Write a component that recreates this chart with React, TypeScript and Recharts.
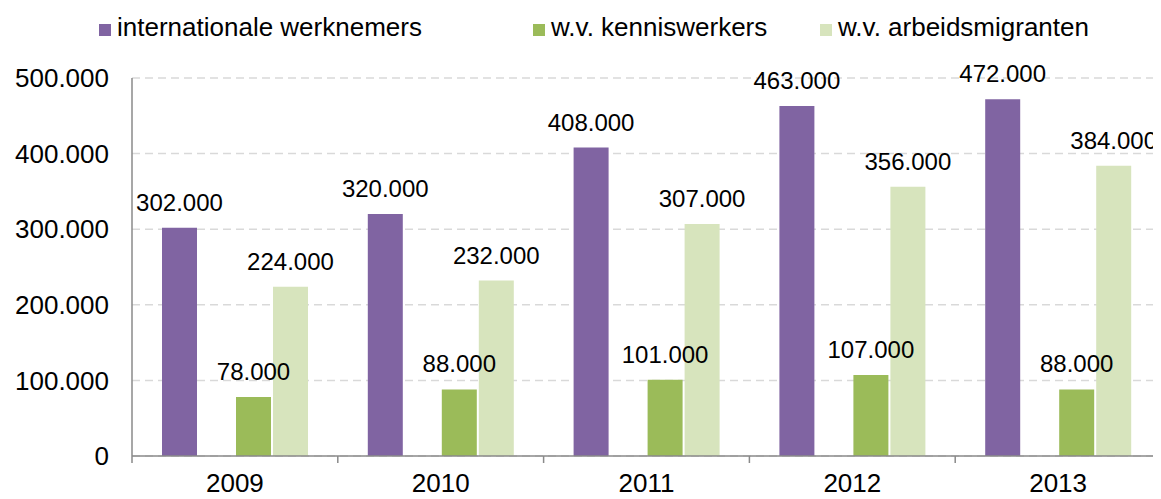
import React from 'react';
import { BarChart, Bar, XAxis, YAxis, CartesianGrid, Legend, LabelList } from 'recharts';

const years = ['2009', '2010', '2011', '2012', '2013'];
const internationaleWerknemers = [302000, 320000, 408000, 463000, 472000];
const kenniswerkers = [78000, 88000, 101000, 107000, 88000];
const arbeidsmigranten = [224000, 232000, 307000, 356000, 384000];
const yTicks = [0, 100000, 200000, 300000, 400000, 500000];

const seriesNames = ['internationale werknemers', 'w.v. kenniswerkers', 'w.v. arbeidsmigranten'];
const seriesColors = ['#8064A2', '#9BBB59', '#D7E4BD'];

const data = years.map((y, i) => ({
  year: y,
  intl: internationaleWerknemers[i],
  gap: null,
  kennis: kenniswerkers[i],
  arbeid: arbeidsmigranten[i],
}));

const CHART_W = 1153;
const CHART_H = 491;
const Y_AXIS_W = 124;
const BAND = (CHART_W - Y_AXIS_W) / years.length;
const FONT = '"Liberation Sans", Arial, sans-serif';
const AXIS_COLOR = '#8a8a8a';
const X_TICK_MARGIN = 18;

const fmt = (v: any) => {
  if (v === null || v === undefined) return '';
  return String(v).replace(/\B(?=(\d{3})+(?!\d))/g, '.');
};

const XTick = (props: any) => {
  const { x, y, payload, index } = props;
  const axisY = y - X_TICK_MARGIN;
  return (
    <g>
      <line x1={x - BAND / 2} x2={x - BAND / 2} y1={axisY} y2={axisY + 7} stroke={AXIS_COLOR} strokeWidth={1.5} />
      {index === years.length - 1 && (
        <line x1={x + BAND / 2} x2={x + BAND / 2} y1={axisY} y2={axisY + 7} stroke={AXIS_COLOR} strokeWidth={1.5} />
      )}
      <text x={x} y={y} dy="0.71em" textAnchor="middle" fill="#000" fontSize={26} fontFamily={FONT}>
        {payload.value}
      </text>
    </g>
  );
};

const slotWidths = [434, 287, 300];

const LegendContent = () => (
  <div style={{ display: 'flex', height: 30, paddingLeft: 91, fontFamily: FONT }}>
    {seriesNames.map((n, i) => (
      <div key={n} style={{ width: slotWidths[i], display: 'flex', alignItems: 'flex-start', height: 30 }}>
        <div style={{ width: 12, height: 12, background: seriesColors[i], marginTop: 12, marginRight: 6 }} />
        <span style={{ fontSize: 26, lineHeight: '30px', color: '#000', whiteSpace: 'nowrap' }}>{n}</span>
      </div>
    ))}
  </div>
);

export default function App() {
  return (
    <div style={{ width: CHART_W, height: CHART_H }}>
      <BarChart
        width={CHART_W}
        height={CHART_H}
        data={data}
        margin={{ top: 40, right: 0, bottom: 0, left: 0 }}
        barSize={35}
        barGap={2}
      >
        <CartesianGrid vertical={false} stroke="#d9d9d9" strokeDasharray="8 5" strokeWidth={1.5} />
        <Legend verticalAlign="top" content={<LegendContent />} wrapperStyle={{ top: 4, left: 0, width: CHART_W }} />
        <XAxis
          dataKey="year"
          height={43}
          tickLine={false}
          tickSize={0}
          tickMargin={X_TICK_MARGIN}
          axisLine={{ stroke: AXIS_COLOR, strokeWidth: 1.5 }}
          tick={<XTick />}
          interval={0}
        />
        <YAxis
          width={Y_AXIS_W}
          domain={[0, 500000]}
          ticks={yTicks}
          tickFormatter={fmt}
          tickLine={false}
          tickSize={0}
          tickMargin={23}
          axisLine={{ stroke: AXIS_COLOR, strokeWidth: 1.5 }}
          tick={{ fill: '#000', fontSize: 26, fontFamily: FONT }}
          interval={0}
        />
        <Bar dataKey="intl" name={seriesNames[0]} fill={seriesColors[0]} isAnimationActive={false}>
          <LabelList dataKey="intl" position="top" offset={17} formatter={fmt} fill="#000" fontSize={24} fontFamily={FONT} />
        </Bar>
        <Bar dataKey="gap" legendType="none" fill="transparent" isAnimationActive={false} />
        <Bar dataKey="kennis" name={seriesNames[1]} fill={seriesColors[1]} isAnimationActive={false}>
          <LabelList dataKey="kennis" position="top" offset={17} formatter={fmt} fill="#000" fontSize={24} fontFamily={FONT} />
        </Bar>
        <Bar dataKey="arbeid" name={seriesNames[2]} fill={seriesColors[2]} isAnimationActive={false}>
          <LabelList dataKey="arbeid" position="top" offset={17} formatter={fmt} fill="#000" fontSize={24} fontFamily={FONT} />
        </Bar>
      </BarChart>
    </div>
  );
}
